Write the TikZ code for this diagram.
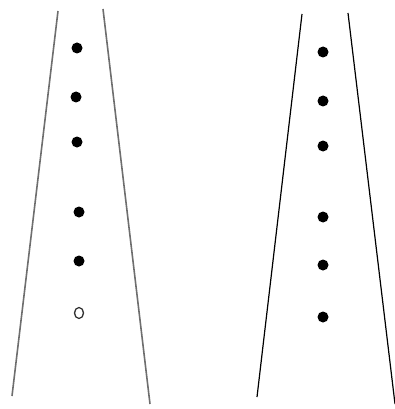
\documentclass[tikz,border=0pt]{standalone}
\usepackage{xcolor}
\usepackage{tikz}
\usetikzlibrary{positioning,shapes.geometric}
\definecolor{wallgray}{RGB}{110,110,110}

\begin{document}
\begin{tikzpicture}[x=1pt, y=-1pt,
        full/.style={circle, fill=black, inner sep=0pt,
                     minimum width=10pt, minimum height=11pt},
        hole/.style={ellipse, draw=black!80, line width=1.3pt, fill=white,
                     inner sep=0pt, minimum width=9pt, minimum height=11pt},
        wall/.style={wallgray, line width=1.6pt},
        thinwall/.style={black, line width=1.2pt}
      ]
        \useasboundingbox (0,0) rectangle (395,409);
        % left tube
        \coordinate (LTa) at (58,11);
        \coordinate (LBa) at (12,396);
        \coordinate (LTb) at (103,9);
        \coordinate (LBb) at (150,404);
        \draw[wall] (LTa) -- (LBa);
        \draw[wall] (LTb) -- (LBb);
        \foreach \y/\x [count=\i] in {48/77,97/76,142/77,212/79,261/79}
          \node[full] (L\i) at (\x,\y) {};
        \node[hole] (L6) at (79,313) {};
        % right tube
        \coordinate (RTa) at (302,14);
        \coordinate (RBa) at (257,397);
        \coordinate (RTb) at (348,13);
        \coordinate (RBb) at (395,404);
        \draw[thinwall] (RTa) -- (RBa);
        \draw[thinwall] (RTb) -- (RBb);
        \foreach \y [count=\i] in {52,101,146,217,265,317}
          \node[full] (R\i) at (323,\y) {};
      \end{tikzpicture}
\end{document}
